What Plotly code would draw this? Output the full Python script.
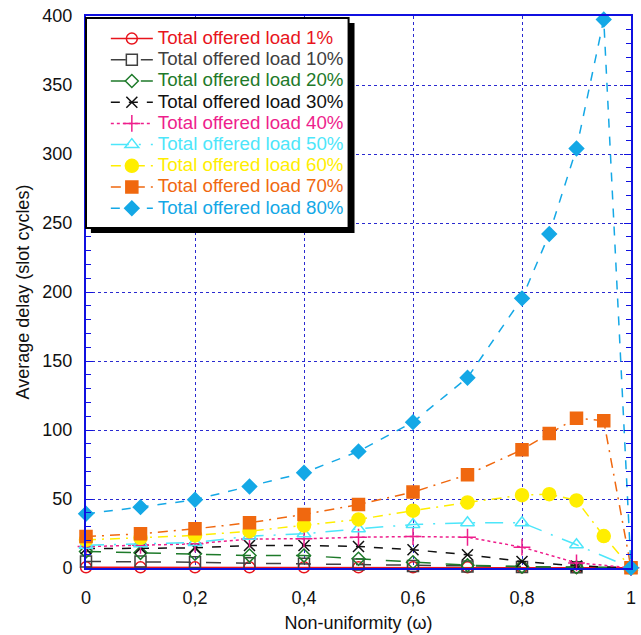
import plotly.graph_objects as go

# ---- data ----
x_base = [0, 0.1, 0.2, 0.3, 0.4, 0.5, 0.6, 0.7, 0.8, 0.9, 1.0]
x_fine = [0, 0.1, 0.2, 0.3, 0.4, 0.5, 0.6, 0.7, 0.8, 0.85, 0.9, 0.95, 1.0]

load_1 = [0.5, 0.5, 0.5, 0.5, 0.5, 0.5, 0.5, 0.5, 0.5, 0.4, 0.2]
load_10 = [4.7, 4.7, 4.2, 3.5, 3.0, 2.5, 1.5, 1.0, 0.8, 0.5, 0.2]
load_20 = [12.0, 11.0, 10.3, 9.0, 9.0, 6.7, 4.2, 2.0, 1.0, 0.5, 0.2]
load_30 = [14.0, 14.4, 14.6, 16.3, 16.3, 15.6, 13.2, 9.6, 4.7, 1.5, 0.2]
load_40 = [15.5, 16.5, 17.5, 21.0, 21.2, 22.3, 22.8, 22.3, 15.1, 3.7, 0.2]
load_50 = [16.5, 17.5, 18.5, 23.0, 24.8, 28.4, 31.5, 32.8, 32.8, 16.8, 0.2]
load_60 = [20.4, 21.9, 23.6, 26.7, 30.8, 35.2, 41.5, 47.5, 52.8, 53.5, 49.0, 23.1, 0.2]
load_70 = [22.8, 24.8, 28.4, 32.8, 38.8, 46.0, 55.0, 67.6, 85.7, 97.5, 108.6, 106.7, 0.2]
load_80 = [39.3, 44.1, 49.5, 59.0, 69.0, 84.5, 105.7, 137.9, 195.4, 242.0, 304.0, 397.5, 0.2]

names = ["Total offered load 1%", "Total offered load 10%", "Total offered load 20%",
         "Total offered load 30%", "Total offered load 40%", "Total offered load 50%",
         "Total offered load 60%", "Total offered load 70%", "Total offered load 80%"]

x_ticks = [0, 0.2, 0.4, 0.6, 0.8, 1.0]
y_ticks = [0, 50, 100, 150, 200, 250, 300, 350, 400]

# ---- styles ----
series = [
    (x_base, load_1, "#e8141c", "solid", "circle-open", 11),
    (x_base, load_10, "#404040", "longdash", "square-open", 11),
    (x_base, load_20, "#1e7a2a", "longdash", "diamond-open", 10),
    (x_base, load_30, "#111111", "dash", "x-thin-open", 11),
    (x_base, load_40, "#ee1e8c", "dot", "cross-thin-open", 12),
    (x_base, load_50, "#4de6fa", "18px,10px,2px,10px", "triangle-up-open", 12),
    (x_fine, load_60, "#ffee00", "10px,6px,2px,6px", "circle", 13),
    (x_fine, load_70, "#f0680f", "10px,6px,2px,6px", "square", 12),
    (x_fine, load_80, "#14a8e6", "dash", "diamond", 11),
]

fig = go.Figure()
for (xs, ys, col, dash, sym, size), nm in zip(series, names):
    fig.add_trace(go.Scatter(
        x=xs, y=ys, mode="lines+markers",
        name=f"<span style='color:{col};font-size:18.7px'>{nm}</span>",
        line=dict(color=col, width=1.5, dash=dash),
        marker=dict(symbol=sym, size=size, color=col,
                    line=dict(color=col, width=1.5)),
        cliponaxis=False,
    ))

axis_blue = "#1010e0"
grid_blue = "#2a2ad0"
font_fam = "Arial, Liberation Sans, sans-serif"

fig.update_layout(
    width=641, height=635,
    margin=dict(l=86, r=5, t=16, b=67),
    paper_bgcolor="white", plot_bgcolor="white",
    separators=", ",
    font=dict(family=font_fam, size=18, color="#111111"),
    showlegend=True,
    legend=dict(
        x=0.0364, y=0.9873, xanchor="left", yanchor="top",
        bgcolor="rgba(0,0,0,0)", borderwidth=0,
        font=dict(family=font_fam, size=14),
        itemwidth=42, tracegroupgap=0,
    ),
    xaxis=dict(
        range=[0, 1], tickvals=x_ticks, tickformat=".1~f",
        showline=True, linecolor=axis_blue, linewidth=2, mirror=True,
        showgrid=True, gridcolor=grid_blue, griddash="dot", gridwidth=1,
        zeroline=False, ticks="", ticklabelstandoff=12,
        title=dict(text="Non-uniformity (ω)", font=dict(size=18), standoff=10),
        tickfont=dict(size=18),
    ),
    yaxis=dict(
        range=[0, 400], tickvals=y_ticks,
        showline=True, linecolor=axis_blue, linewidth=2, mirror="allticks",
        showgrid=True, gridcolor=grid_blue, griddash="dot", gridwidth=1,
        zeroline=False, ticks="inside", ticklen=7, tickcolor=axis_blue,
        ticklabelstandoff=8,
        minor=dict(dtick=10, ticks="inside", ticklen=5, tickcolor=axis_blue, showgrid=False),
        title=dict(text="Average delay (slot cycles)", font=dict(size=18), standoff=8),
        tickfont=dict(size=18),
    ),
    shapes=[
        dict(type="rect", xref="paper", yref="paper",
             x0=0.009, x1=0.4927, y0=0.6069, y1=0.9873,
             fillcolor="black", line=dict(width=0), layer="above"),
        dict(type="rect", xref="paper", yref="paper",
             x0=0.0, x1=0.4818, y0=0.6159, y1=0.9964,
             fillcolor="white", line=dict(color="black", width=2), layer="above"),
    ],
)

fig.write_html("out.html")
